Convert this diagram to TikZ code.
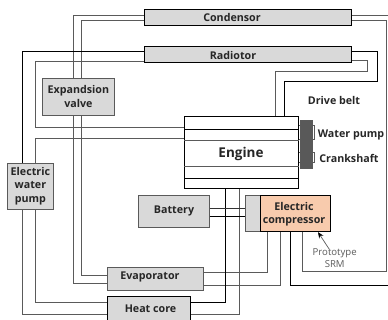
\documentclass[tikz,border=0pt]{standalone}
\usepackage{fontspec}
\setmainfont{Open Sans}
\usetikzlibrary{arrows.meta}
\definecolor{boxgray}{HTML}{D9D9D9}
\definecolor{compfill}{HTML}{F8CBAD}
\definecolor{linegray}{HTML}{5A5A5A}
\definecolor{blockgray}{HTML}{595959}
\definecolor{ink}{HTML}{262626}
\tikzset{
  x=1pt,y=-1pt,
  box/.style={draw=linegray,line width=0.9pt,fill=boxgray,inner sep=0pt,align=center,text=ink,
     font=\bfseries\fontsize{10.7}{13.5}\selectfont},
  blackbox/.style={box,draw=black},
  lbl/.style={inner sep=0pt,align=center,text=ink,font=\bfseries\fontsize{10.7}{13}\selectfont},
  pipe/.style={draw=linegray,line width=0.9pt},
  kpipe/.style={draw=black,line width=0.9pt},
  wire/.style={draw=black,line width=1.3pt},
}
\newcommand{\bx}[6]{\node[#1,minimum width=#4 pt-#3 pt,minimum height=#6 pt-#5 pt] (#2) at ({(#3+#4)/2},{(#5+#6)/2}) }
\begin{document}
\begin{tikzpicture}
\useasboundingbox (0,0) rectangle (388,320);
\clip (0,0) rectangle (388,320);
% boxes
\bx{blackbox}{cond}{144.5}{351.5}{9.5}{25.5} {};
\bx{blackbox}{rad}{144.5}{351.5}{46.5}{62.5} {};
\bx{box}{valve}{42.5}{114.3}{78}{115.3} {Expandsion\\valve};
\bx{box}{ewp}{7.5}{53.3}{163}{209} {Electric\\water\\pump};
\bx{box}{evap}{107.5}{203}{267}{290.8} {};
\bx{blackbox}{heat}{107.5}{190.5}{296}{324} {};
\bx{box}{batt}{138}{209.5}{195.5}{227.7} {};
\node[draw=black,line width=0.9pt,fill=white,minimum width=114pt,minimum height=71.8pt,inner sep=0pt] (eng) at (241.5,152.4) {};
\bx{box}{compg}{245.5}{260.3}{195.7}{231.7} {};
\node[draw=black,line width=0.9pt,fill=compfill,minimum width=70.4pt,minimum height=36pt,inner sep=0pt] (comp) at (295.5,213.7) {};
\node[draw=linegray,line width=0.6pt,fill=blockgray,minimum width=12.7pt,minimum height=48pt,inner sep=0pt] (block) at (306.3,144.3) {};
% engine bands
\draw[kpipe] (eng.west |- 0,129.3) -- (eng.east |- 0,129.3);
\draw[pipe] (eng.west |- 0,140.7) -- (eng.east |- 0,140.7);
\draw[pipe] (eng.west |- 0,166.7) -- (eng.east |- 0,166.7);
\draw[kpipe] (eng.west |- 0,178) -- (eng.east |- 0,178);
% labels
\node[lbl] (tcond) at (232,17.5) {Condensor};
\node[lbl] (trad) at (233,55) {Radiotor};
\node[lbl,font=\bfseries\fontsize{13.5}{15}\selectfont] (teng) at (241,154) {Engine};
\node[lbl] (tbatt) at (174,211) {Battery};
\node[lbl] (tevap) at (150,277) {Evaporator};
\node[lbl] (theat) at (150.5,308.5) {Heat core};
\node[lbl] (tcomp) at (294,214) {Electric\\compressor};
\node[lbl] (tbelt) at (334,100) {Drive belt};
\node[lbl] (twp) at (351,134.7) {Water pump};
\node[lbl] (tcs) at (349,158) {Crankshaft};
\node[inner sep=0pt,align=center,text=linegray,font=\fontsize{9.6}{12}\selectfont] (tsrm) at (334.7,258.5) {Prototype\\SRM};
% refrigerant loop
\draw[pipe] (cond.west |- 0,15.5) -| (valve.north -| 73,0);
\draw[pipe] (cond.west |- 0,20.8) -| (valve.north -| 81.5,0);
\draw[pipe] (valve.south -| 73,0) |- (evap.west |- 0,283);
\draw[pipe] (valve.south -| 81.5,0) |- (evap.west |- 0,275.6);
\draw[pipe] (evap.east |- 0,272.3) -| (comp.south -| 267.7,0);
\draw[pipe] (evap.east |- 0,285.3) -| (comp.south -| 280.3,0);
\coordinate (outA) at (392,15);
\coordinate (outB) at (392,285.3);
\draw[pipe] (cond.east |- 0,15) -- (outA);
\draw[kpipe] (comp.south -| 290.7,0) |- (outB);
\draw[pipe] (cond.east |- 0,20.5) -| (386.7,271.7) -| (comp.south -| 302.7,0);
% coolant loop
\draw[kpipe] (rad.west |- 0,51.3) -| (ewp.north -| 22.5,0);
\draw[pipe] (rad.west |- 0,61) -| (35,127.5) -- (eng.west |- 0,127.5);
\draw[pipe] (eng.west |- 0,138) -| (ewp.north -| 35,0);
\draw[pipe] (ewp.south -| 22.5,0) |- (heat.west |- 0,314.7);
\draw[pipe] (ewp.south -| 35,0) |- (heat.west |- 0,302.3);
\draw[kpipe] (heat.east |- 0,302.3) -| (eng.south -| 225.7,0);
\draw[pipe] (heat.east |- 0,314.7) -| (eng.south -| 239,0);
\draw[kpipe] (rad.east |- 0,51.3) -| (377.3,81) -| (eng.north -| 284.3,0);
\draw[pipe] (rad.east |- 0,60.5) -| (367,71) -| (eng.north -| 275.3,0);
% battery
\draw[wire,draw=black!80] (batt.east |- 0,208.3) -- (compg.west |- 0,208.3);
\draw[wire] (batt.east |- 0,216.7) -- (compg.west |- 0,216.7);
% water pump and crankshaft brackets
\draw[pipe,line width=0.7pt] (block.east |- 0,125) -- (314.7,125) -- (314.7,139) -- (block.east |- 0,139);
\draw[pipe,line width=0.7pt] (block.east |- 0,152.3) -- (314.7,152.3) -- (314.7,162.3) -- (block.east |- 0,162.3);
\draw[pipe,line width=0.7pt] (eng.east |- 0,125) -- (block.west |- 0,125);
\draw[pipe,line width=0.7pt] (eng.east |- 0,139) -- (block.west |- 0,139);
\draw[pipe,line width=0.7pt] (eng.east |- 0,152.3) -- (block.west |- 0,152.3);
\draw[pipe,line width=0.7pt] (eng.east |- 0,162.3) -- (block.west |- 0,162.3);
% SRM arrow
\draw[linegray,line width=0.7pt,-{Stealth[length=6pt,width=5pt,black]}] (tsrm.north -| 329,0) -- (comp.south -| 318,0);
\end{tikzpicture}
\end{document}
